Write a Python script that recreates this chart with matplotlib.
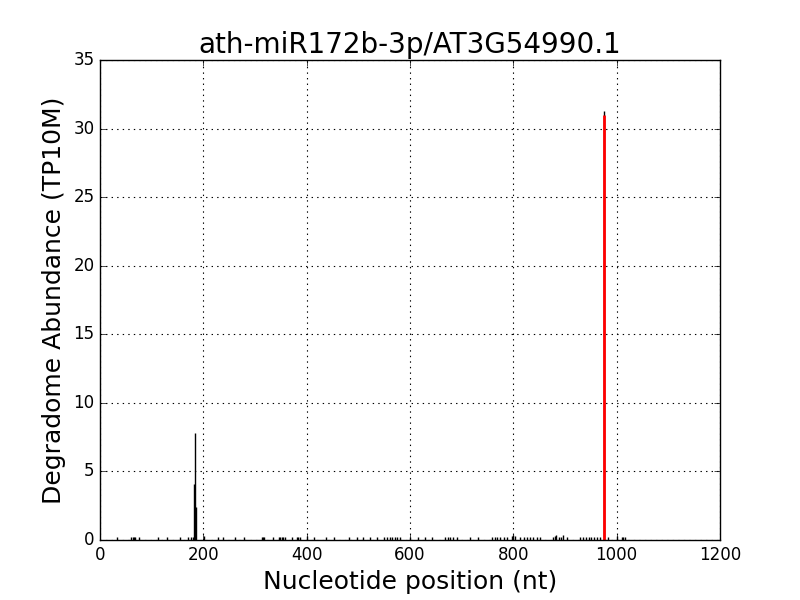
import numpy as np
import matplotlib
matplotlib.use("Agg")
import matplotlib.pyplot as plt

plt.style.use('classic')

title = "ath-miR172b-3p/AT3G54990.1"
target_pos = 975
target_val = 31.0

# degradome read positions (nt) and abundance (TP10M)
positions = [33, 60, 63, 66, 68, 75, 112, 130, 155, 170, 176, 180, 182, 184, 186,
             201, 228, 238, 261, 279, 313, 315, 317, 335, 346, 349, 352, 355, 358,
             372, 381, 384, 387, 401, 414, 437, 453, 482, 497, 509, 522, 536,
             550, 556, 562, 566, 570, 574, 580, 600, 615, 629, 643,
             668, 673, 678, 684, 691, 716, 732, 759, 764, 769, 775, 781, 788,
             797, 800, 803, 813, 820, 826, 832, 838, 845, 852,
             877, 881, 883, 888, 893, 897, 904, 929, 935, 940, 946, 951, 957, 962, 968,
             975, 983, 1001, 1010, 1013, 1016]
values = [0.2, 0.2, 0.2, 0.2, 0.2, 0.2, 0.2, 0.2, 0.2, 0.2, 0.2, 0.2, 4.1, 7.8, 2.4,
          0.3, 0.2, 0.2, 0.2, 0.2, 0.2, 0.2, 0.2, 0.2, 0.2, 0.2, 0.2, 0.2, 0.2,
          0.2, 0.2, 0.2, 0.2, 0.3, 0.2, 0.2, 0.2, 0.2, 0.2, 0.2, 0.2, 0.2,
          0.2, 0.2, 0.2, 0.2, 0.2, 0.2, 0.2, 0.2, 0.2, 0.2, 0.2,
          0.2, 0.2, 0.2, 0.2, 0.2, 0.2, 0.2, 0.2, 0.2, 0.2, 0.2, 0.2, 0.2,
          0.3, 0.4, 0.3, 0.2, 0.2, 0.2, 0.2, 0.2, 0.2, 0.2,
          0.2, 0.3, 0.35, 0.2, 0.2, 0.35, 0.2, 0.2, 0.2, 0.2, 0.2, 0.2, 0.2, 0.2, 0.2,
          31.3, 0.2, 0.3, 0.2, 0.2, 0.2]

fig = plt.figure(figsize=(8, 6), dpi=100, facecolor='white')
ax = fig.add_subplot(111)
fig.subplots_adjust(left=0.125, right=0.9, bottom=0.1, top=0.9)

ax.vlines(positions, 0, values, colors='black', linewidth=1)
ax.vlines([target_pos], 0, [target_val], colors='red', linewidth=2)

ax.set_xlim(0, 1200)
ax.set_ylim(0, 35)
ax.set_xticks(np.arange(0, 1201, 200))
ax.set_yticks(np.arange(0, 36, 5))
ax.grid(True, color='black', linestyle=':', linewidth=0.8)
ax.tick_params(labelsize=12)

ax.set_title(title, fontsize=20)
ax.set_xlabel("Nucleotide position (nt)", fontsize=18)
ax.set_ylabel("Degradome Abundance (TP10M)", fontsize=18)

fig.savefig("out.png", dpi=100, facecolor='white')
